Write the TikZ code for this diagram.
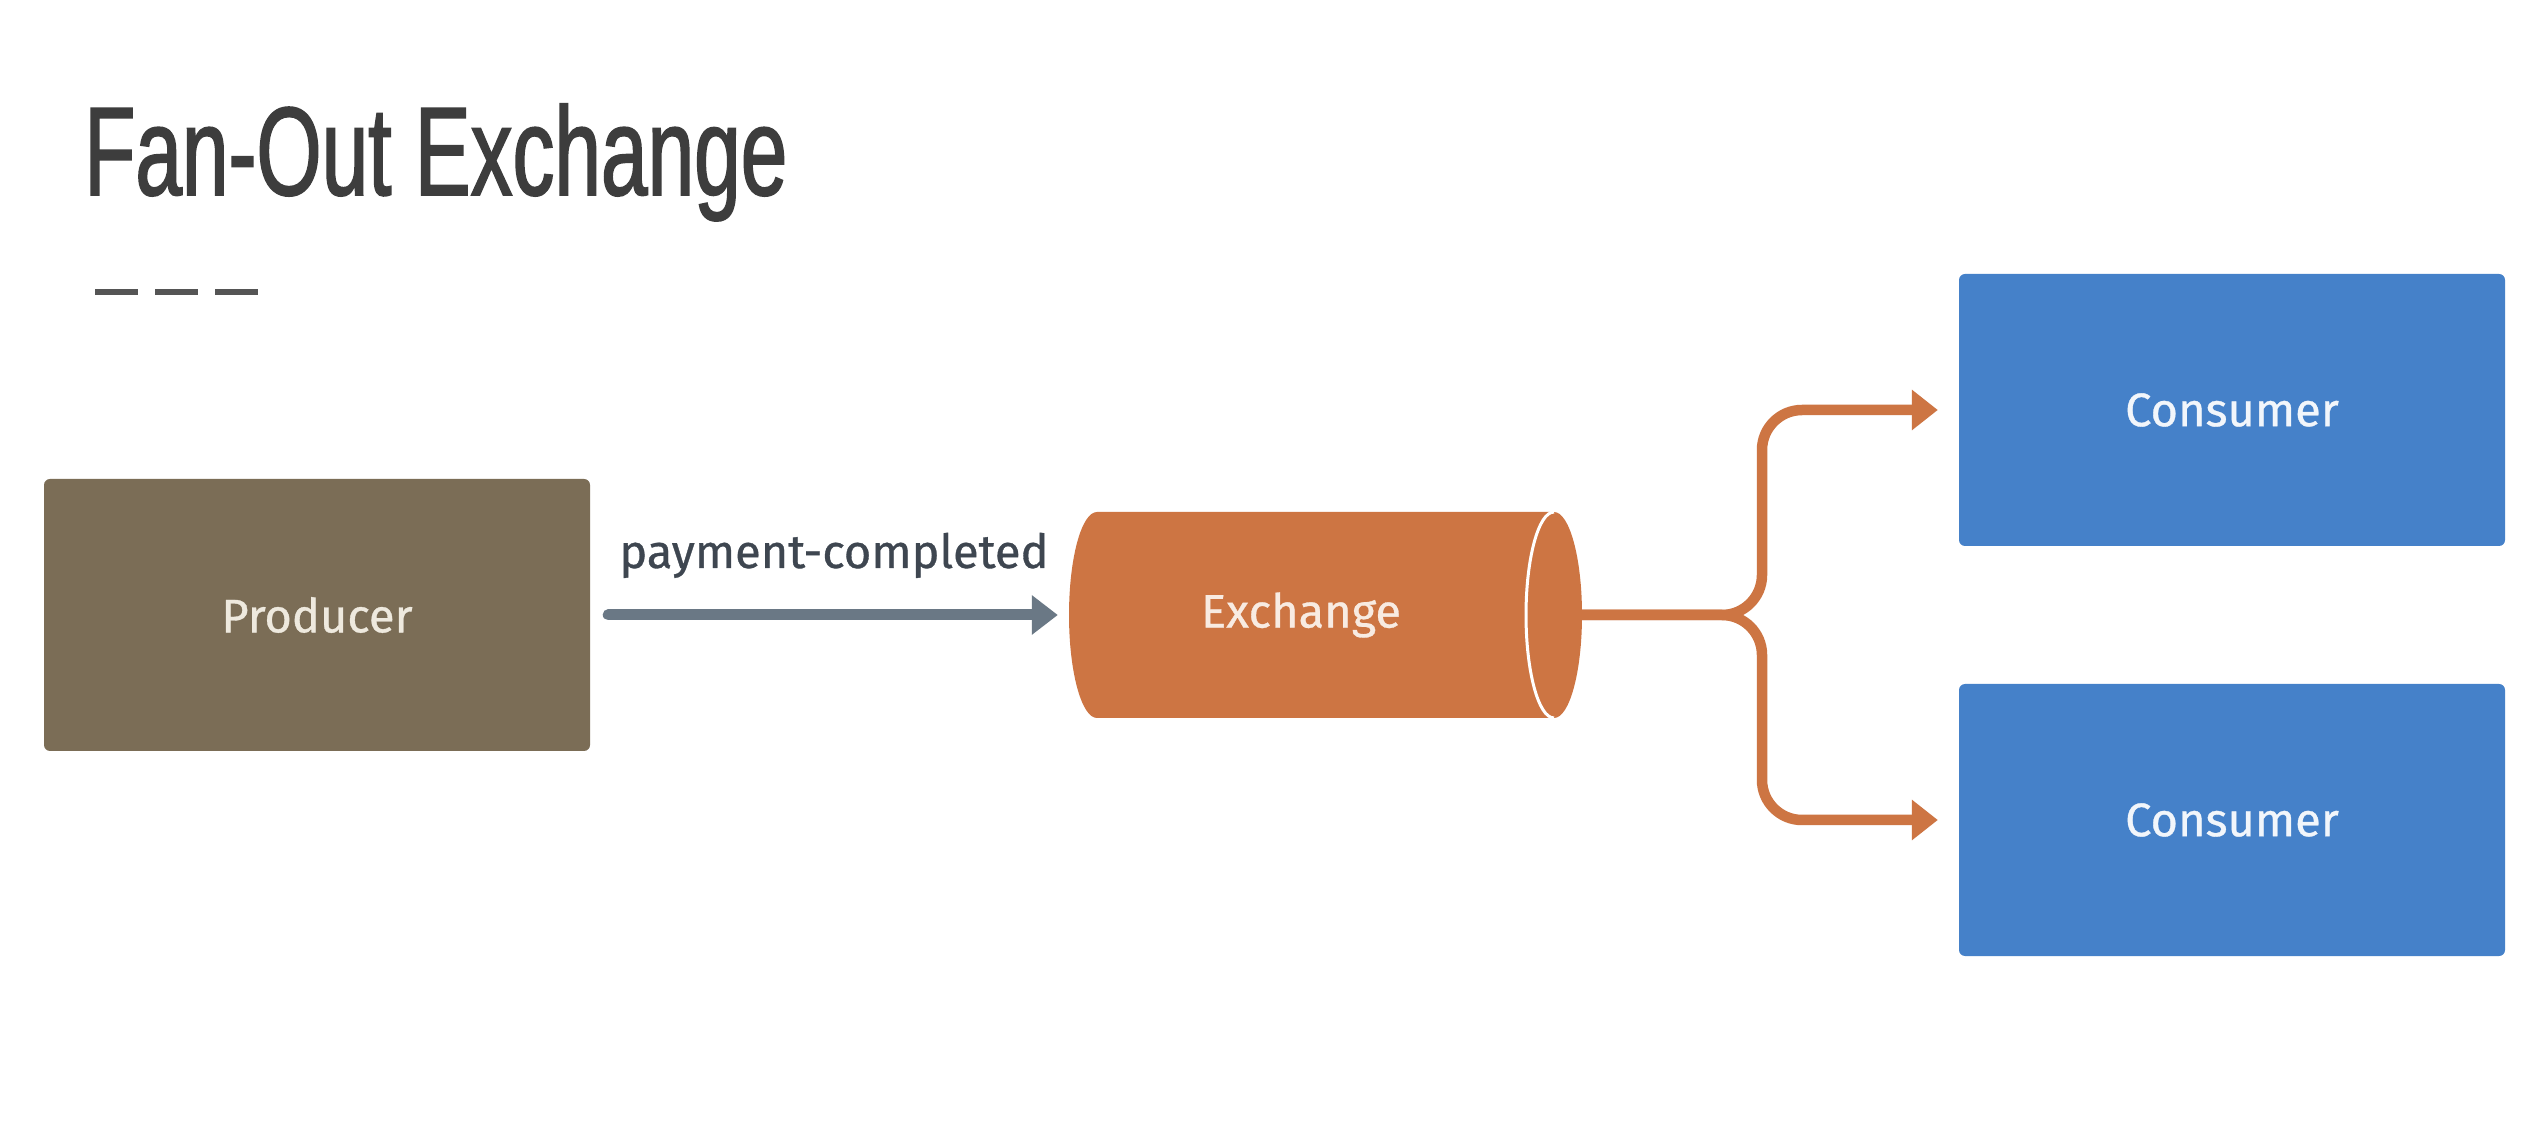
\documentclass[tikz,border=0pt]{standalone}
\usepackage{fontspec}
\setmainfont[FakeBold=0.7]{Fira Sans}
\newfontfamily\titlefont[FakeStretch=0.665,FakeBold=1.3]{Liberation Sans}
\usetikzlibrary{arrows.meta}
\definecolor{prodfill}{HTML}{7B6D56}
\definecolor{prodtext}{HTML}{EEE9DE}
\definecolor{exfill}{HTML}{CD7543}
\definecolor{extext}{HTML}{F8EBE2}
\definecolor{consfill}{HTML}{4581C9}
\definecolor{constext}{HTML}{F2F6FB}
\definecolor{grayarrow}{HTML}{6A7885}
\definecolor{labeltext}{HTML}{3E4650}
\definecolor{titlecol}{HTML}{3D3D3D}
\definecolor{dashcol}{HTML}{555555}
\tikzset{
  boxstyle/.style={rounded corners=6pt, minimum width=546pt, minimum height=272pt, inner sep=0pt},
  textfont/.style={font=\fontsize{47}{56}\selectfont},
  grayconn/.style={draw=grayarrow, line width=11pt, line cap=round, -{Triangle[length=26pt,width=38pt]}},
  orangeconn/.style={draw=exfill, line width=10.5pt, rounded corners=40pt, -{Triangle[length=26pt,width=39pt]}, shorten >=21pt},
  dashseg/.style={draw=dashcol, line width=6pt}
}
\begin{document}
\begin{tikzpicture}[x=1pt,y=1pt]
\useasboundingbox (0,0) rectangle (2542,1130);
\fill[white] (0,0) rectangle (2542,1130);
% title
\node[anchor=base west, inner sep=0pt, text=titlecol, font=\titlefont\fontsize{126}{150}\selectfont] (title) at (84,935) {Fan-Out Exchange};
% decorative dashes
\draw[dashseg] (95,838) -- (138,838);
\draw[dashseg] (155,838) -- (198,838);
\draw[dashseg] (215,838) -- (258,838);
% producer
\node[boxstyle, fill=prodfill, text=prodtext, textfont] (prod) at (317,515) {Producer};
% exchange cylinder
\node[minimum width=513pt, minimum height=206pt, inner sep=0pt] (exch) at (1325.5,515) {};
\fill[exfill] (1097,618) -- (1554,618) arc[start angle=90, end angle=-90, x radius=28, y radius=103] -- (1097,412) arc[start angle=270, end angle=90, x radius=28, y radius=103] -- cycle;
\draw[white, line width=3pt] (1554,618) arc[start angle=90, end angle=270, x radius=28, y radius=103];
\node[text=extext, textfont, inner sep=0pt] (exlabel) at (1301,515) {Exchange};
% consumers
\node[boxstyle, fill=consfill, text=constext, textfont] (c1) at (2232,720) {Consumer};
\node[boxstyle, fill=consfill, text=constext, textfont] (c2) at (2232,310) {Consumer};
% producer -> exchange
\draw[grayconn, shorten <=18pt, shorten >=11pt] (prod.east) -- (exch.west);
\node[anchor=base, text=labeltext, textfont, inner sep=0pt] (lbl) at (834,562) {payment-completed};
% fan-out
\coordinate (jx) at (1762,515);
\draw[orangeconn] (exch.east) -- (jx) -- (jx |- c1.west) -- (c1.west);
\draw[orangeconn] (exch.east) -- (jx) -- (jx |- c2.west) -- (c2.west);
\end{tikzpicture}
\end{document}
